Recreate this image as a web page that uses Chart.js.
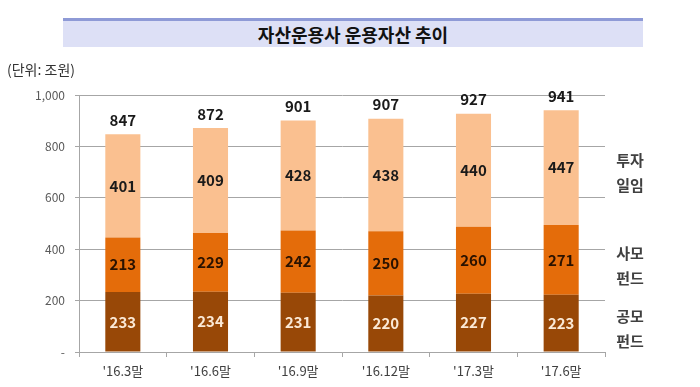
<!DOCTYPE html>
<html>
<head>
<meta charset="utf-8">
<script src="https://cdn.jsdelivr.net/npm/chart.js@4"></script>
<style>
  body { margin: 0; background: #fff; }
  #wrap { position: relative; width: 700px; height: 387px; }
  #title {
    position: absolute; left: 63px; top: 18px; width: 580px; height: 26px;
    border-top: 3px solid #8e9ad6; background: #dde0f6;
    font: bold 18px "Noto Sans CJK KR", sans-serif; color: #111;
    text-align: center; line-height: 26px;
  }
  #unit {
    position: absolute; left: 7px; top: 59px;
    font: 14px "Noto Sans CJK KR", sans-serif; color: #333;
  }
</style>
</head>
<body>
<div id="wrap">
  <canvas id="myChart" width="700" height="387"></canvas>
  <div id="title">자산운용사 운용자산 추이</div>
  <div id="unit">(단위: 조원)</div>
</div>
<script>
// data
var categories = ["'16.3말", "'16.6말", "'16.9말", "'16.12말", "'17.3말", "'17.6말"];
var publicFund = [233, 234, 231, 220, 227, 223];
var privateFund = [213, 229, 242, 250, 260, 271];
var discretionary = [401, 409, 428, 438, 440, 447];
var totals = [847, 872, 901, 907, 927, 941];
var seriesNames = [["공모", "펀드"], ["사모", "펀드"], ["투자", "일임"]];
var yTicks = [0, 200, 400, 600, 800, 1000];

var font = '"Noto Sans CJK KR", sans-serif';

var labelPlugin = {
    id: 'labels',
    afterDatasetsDraw: function(chart) {
        var ctx = chart.ctx;
        ctx.save();
        ctx.textAlign = 'center';
        ctx.textBaseline = 'middle';
        var textColors = ['#fbe9d6', '#2a1200', '#1a1a1a'];
        for (var d = 0; d < chart.data.datasets.length; d++) {
            var meta = chart.getDatasetMeta(d);
            ctx.font = 'bold 15px ' + font;
            ctx.fillStyle = textColors[d];
            for (var i = 0; i < meta.data.length; i++) {
                var bar = meta.data[i];
                ctx.fillText(chart.data.datasets[d].data[i], bar.x, (bar.y + bar.base) / 2);
            }
            // side labels next to last bar
            var last = meta.data[meta.data.length - 1];
            var mid = (last.y + last.base) / 2 + 5;
            ctx.font = 'bold 15px ' + font;
            ctx.fillStyle = '#404040';
            ctx.fillText(seriesNames[d][0], 630, mid - 12);
            ctx.fillText(seriesNames[d][1], 630, mid + 13);
        }
        // totals
        var topMeta = chart.getDatasetMeta(2);
        ctx.font = 'bold 15px ' + font;
        ctx.fillStyle = '#1a1a1a';
        for (var j = 0; j < topMeta.data.length; j++) {
            ctx.fillText(totals[j], topMeta.data[j].x, topMeta.data[j].y - 14);
        }
        ctx.restore();
    }
};

var ctx = document.getElementById('myChart');
var myChart = new Chart(ctx, {
    type: 'bar',
    data: {
        labels: categories,
        datasets: [
            { label: '공모펀드', data: publicFund, backgroundColor: '#984807' },
            { label: '사모펀드', data: privateFund, backgroundColor: '#e46c0a' },
            { label: '투자일임', data: discretionary, backgroundColor: '#fac090' }
        ]
    },
    options: {
        responsive: false,
        animation: false,
        layout: { padding: { left: 0, right: 95, top: 95, bottom: 0 } },
        datasets: { bar: { categoryPercentage: 1.0, barPercentage: 0.4 } },
        plugins: { legend: { display: false }, tooltip: { enabled: false } },
        scales: {
            x: {
                stacked: true,
                grid: { drawOnChartArea: false, tickLength: 5, color: '#a6a6a6', offset: true },
                border: { color: '#a6a6a6' },
                ticks: { color: '#404040', font: { family: font, size: 13 }, padding: 6 },
                afterFit: function(scale) { scale.height = 35; }
            },
            y: {
                stacked: true,
                min: 0, max: 1000,
                afterBuildTicks: function(scale) {
                    scale.ticks = yTicks.map(function(v) { return { value: v }; });
                },
                grid: { color: '#a6a6a6', tickLength: 4 },
                border: { color: '#a6a6a6' },
                ticks: {
                    color: '#595959', font: { family: font, size: 12 }, padding: 10,
                    callback: function(v) { return v === 0 ? '-' : v.toLocaleString('en-US'); }
                },
                afterFit: function(scale) { scale.width = 79; }
            }
        }
    },
    plugins: [labelPlugin]
});
</script>
</body>
</html>
